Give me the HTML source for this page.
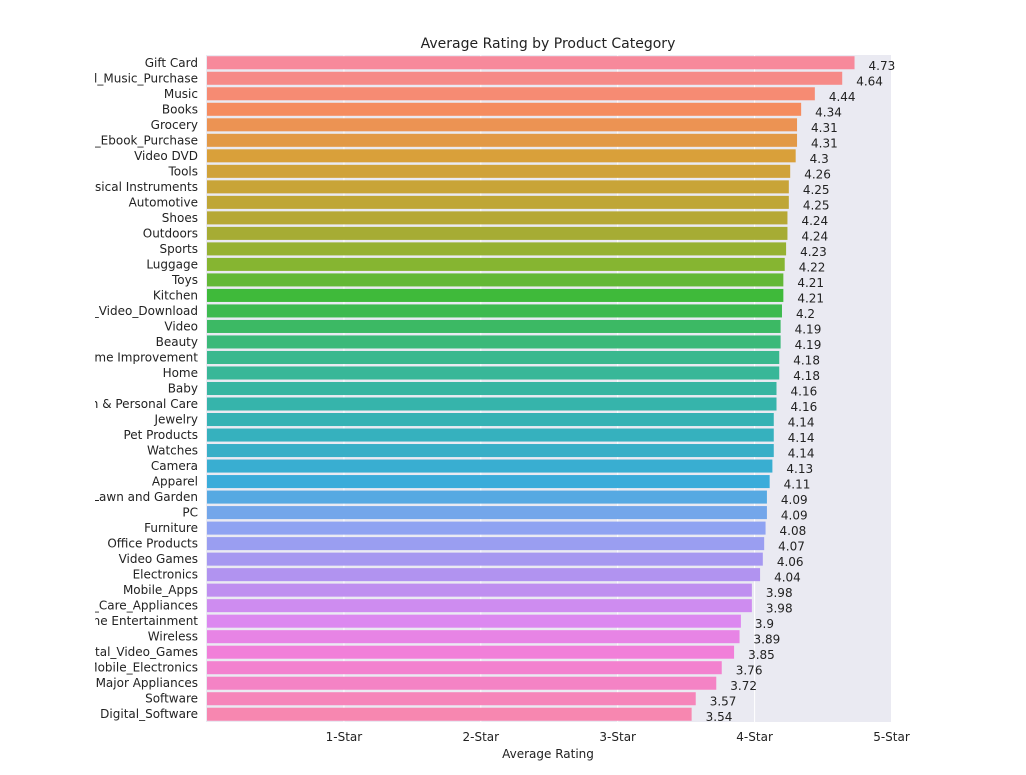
<!DOCTYPE html>
<html><head><meta charset="utf-8"><style>
body{margin:0;background:#fff;font-family:"Liberation Sans","DejaVu Sans",sans-serif;}
svg text{font-family:"DejaVu Sans","Liberation Sans",sans-serif;}
</style></head><body>
<svg id="chart" width="1026" height="770">
<defs><clipPath id="lc"><rect x="95" y="0" width="931" height="770"/></clipPath></defs>
<rect x="206" y="55" width="685" height="667" fill="#eaeaf2"/>
<g id="grid"></g><g id="bars"></g><g id="labels" clip-path="url(#lc)"></g><g id="ticks"></g>
<text x="548" y="48" text-anchor="middle" font-size="14" fill="#222">Average Rating by Product Category</text>
<text x="548" y="758" text-anchor="middle" font-size="12" fill="#222">Average Rating</text>
</svg>
<script>
const categories=["Gift Card","Digital_Music_Purchase","Music","Books","Grocery","Digital_Ebook_Purchase","Video DVD","Tools","Musical Instruments","Automotive","Shoes","Outdoors","Sports","Luggage","Toys","Kitchen","Digital_Video_Download","Video","Beauty","Home Improvement","Home","Baby","Health & Personal Care","Jewelry","Pet Products","Watches","Camera","Apparel","Lawn and Garden","PC","Furniture","Office Products","Video Games","Electronics","Mobile_Apps","Personal_Care_Appliances","Home Entertainment","Wireless","Digital_Video_Games","Mobile_Electronics","Major Appliances","Software","Digital_Software"];
const values=[4.73,4.64,4.44,4.34,4.31,4.31,4.3,4.26,4.25,4.25,4.24,4.24,4.23,4.22,4.21,4.21,4.2,4.19,4.19,4.18,4.18,4.16,4.16,4.14,4.14,4.14,4.13,4.11,4.09,4.09,4.08,4.07,4.06,4.04,3.98,3.98,3.9,3.89,3.85,3.76,3.72,3.57,3.54];
const tickValues=[1,2,3,4,5];
const tickLabels=["1-Star","2-Star","3-Star","4-Star","5-Star"];
const anchors=[[0,[247,137,155]],[3,[245,140,95]],[6,[217,160,58]],[10,[182,168,53]],[13,[134,181,49]],[15,[63,186,58]],[19,[57,184,142]],[23,[53,178,180]],[27,[58,172,218]],[30,[143,163,242]],[33,[177,147,240]],[36,[220,136,240]],[38,[241,127,217]],[42,[247,135,176]]];
function color(i){for(let k=0;k<anchors.length-1;k++){const[a,ca]=anchors[k],[b,cb]=anchors[k+1];if(i>=a&&i<=b){const t=(i-a)/(b-a);return "rgb("+ca.map((v,j)=>Math.round(v+(cb[j]-v)*t)).join(",")+")";}}return "#888";}
const x=v=>207+v*136.9;
const y=i=>55+i*(667/categories.length);
const bw=(667/categories.length)*0.84;
const NS="http://www.w3.org/2000/svg";
function mk(tag,attrs,parent,txt){const e=document.createElementNS(NS,tag);for(const k in attrs)e.setAttribute(k,attrs[k]);if(txt!==undefined)e.textContent=txt;document.getElementById(parent).appendChild(e);return e;}
tickValues.forEach((t,i)=>{
 const g=mk("line",{x1:x(t),x2:x(t),y1:55,y2:722,stroke:"#fff","stroke-width":1},"grid");
 
 
 const tl=mk("text",{x:x(t),y:741,"text-anchor":"middle","font-size":12,fill:"#222"},"ticks",tickLabels[i]);
 
 
});
categories.forEach((c,i)=>{
 const yc=y(i)+667/categories.length/2;
 const r=mk("rect",{x:207,y:yc-bw/2,width:x(values[i])-207,height:bw,fill:color(i)},"bars");
 
 
 const l=mk("text",{x:198,y:yc+4,"text-anchor":"end","font-size":12,fill:"#222"},"labels",c);
 
 
 const v=mk("text",{x:x(values[i])+14,y:yc+7,"font-size":12,fill:"#222"},"ticks",String(values[i]));
 
 
});
</script>
</body></html>
